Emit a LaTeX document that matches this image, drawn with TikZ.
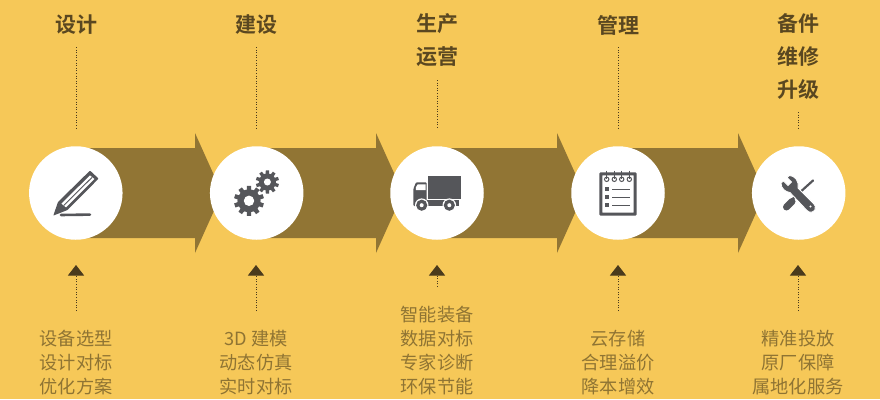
\documentclass[tikz,border=0pt]{standalone}
\usepackage{fontspec}
\setmainfont{Noto Sans CJK SC}
\newfontfamily\cjkb{Noto Sans CJK SC Bold}
\usetikzlibrary{arrows.meta}
\definecolor{bgc}{HTML}{F6C858}
\definecolor{arrowc}{HTML}{917534}
\definecolor{iconc}{HTML}{55565A}
\definecolor{titlec}{HTML}{5A4720}
\definecolor{bodyc}{HTML}{8F7433}
\definecolor{linec}{HTML}{4A3A1C}
\tikzset{
  titletext/.style={text=titlec,font=\cjkb\fontsize{21}{33}\selectfont,align=center,anchor=center,inner sep=0pt},
  bodytext/.style={text=bodyc,font=\fontsize{18.2}{24}\selectfont,align=center,anchor=center,inner sep=0pt},
  disc/.style={circle,fill=white,minimum size=93.5,inner sep=0pt},
  upline/.style={draw=linec,line width=1,dash pattern=on 1 off 1.6},
  pointer/.style={upline,-{Triangle[width=16,length=10.5,fill=linec]}},
  flow/.style={fill=arrowc},
  icon/.style={fill=iconc},
}
\newcommand{\gearshape}[5]{% x y outer body hole
  \fill[icon] (#1,#2) circle[radius=#4];
  \foreach \a in {0,36,...,324}
    \fill[icon,shift={(#1,#2)},rotate=\a] (-#3*0.17,0) -- (-#3*0.14,#3) -- (#3*0.14,#3) -- (#3*0.17,0) -- cycle;
  \fill[white] (#1,#2) circle[radius=#5];
}
\begin{document}
\begin{tikzpicture}[x=1pt,y=-1pt]
\useasboundingbox (0,0) rectangle (880,399);
\fill[bgc] (0,0) rectangle (880,399);
% flow arrows
\foreach \x in {0,181,362,543}
  \fill[flow,shift={(\x,0)}] (76,148) -- (195,148) -- (195,133) -- (222,193) -- (195,253) -- (195,238) -- (76,238) -- cycle;
% discs
\node[disc] (d1) at (75.8,193) {};
\node[disc] (d2) at (256.7,193) {};
\node[disc] (d3) at (437,193) {};
\node[disc] (d4) at (618,193) {};
\node[disc] (d5) at (798.7,193) {};
% titles
\node[titletext] (t1) at (76,25) {设计};
\node[titletext] (t2) at (256,25) {建设};
\node[titletext] (t3) at (437,40.5) {生产\\运营};
\node[titletext] (t4) at (618,25) {管理};
\node[titletext] (t5) at (798,56.5) {备件\\维修\\升级};
% bottom texts
\node[bodytext] (b1) at (76,363) {设备选型\\设计对标\\优化方案};
\node[bodytext] (b2) at (256,363) {3D 建模\\动态仿真\\实时对标};
\node[bodytext] (b3) at (437,351) {智能装备\\数据对标\\专家诊断\\环保节能};
\node[bodytext] (b4) at (618,363) {云存储\\合理溢价\\降本增效};
\node[bodytext] (b5) at (798,363) {精准投放\\原厂保障\\属地化服务};
% upper dotted connectors
\coordinate (u1) at (76,128);
\coordinate (u2) at (256,128);
\coordinate (u3) at (437,128);
\coordinate (u4) at (618,128);
\coordinate (u5) at (798,128);
\draw[upline] (76,47) -- (u1);
\draw[upline] (256,47) -- (u2);
\draw[upline] (437,80) -- (u3);
\draw[upline] (618,47) -- (u4);
\draw[upline] (798,112) -- (u5);
% lower pointers
\coordinate (p1) at (76,265);
\coordinate (p2) at (256,265);
\coordinate (p3) at (437,265);
\coordinate (p4) at (618,265);
\coordinate (p5) at (798,265);
\draw[pointer] (76,311) -- (p1);
\draw[pointer] (256,311) -- (p2);
\draw[pointer] (437,287) -- (p3);
\draw[pointer] (618,311) -- (p4);
\draw[pointer] (798,311) -- (p5);
% pencil icon
\fill[icon,rounded corners=0.6] (53.3,215.6) -- (58,202) -- (90,170.6) -- (98.6,178.6) -- (67.5,210) -- cycle;
\fill[white] (61.4,203.6) -- (90,175.4) -- (94.4,179) -- (66,207.4) -- cycle;
\draw[iconc,line width=0.9] (63.7,205.5) -- (92.2,177.2);
\draw[iconc,line width=2.6,line cap=round] (61,215) -- (90,214.6);
% gears icon
\gearshape{249}{200.8}{15}{11.6}{5.2}
\gearshape{267.4}{182}{11.6}{8.6}{3.5}
% truck icon
\fill[icon] (428.3,175.7) rectangle (460.7,199);
\fill[icon,rounded corners=1] (413.3,206) -- (413.3,189) -- (416,182.3) -- (426.7,182.3) -- (426.7,206) -- cycle;
\fill[icon] (426,200) rectangle (459.4,206);
\fill[white] (415.8,190.2) -- (415.8,187.5) -- (417.6,184.4) -- (425.6,184.4) -- (425.6,190.2) -- cycle;
\foreach \wx in {421.7,449.3} {
  \fill[white] (\wx,205.2) circle[radius=6.8];
  \fill[icon] (\wx,205.2) circle[radius=5.6];
  \fill[white] (\wx,205.2) circle[radius=2];
}
% notebook icon
\draw[iconc,line width=3,rounded corners=0.5] (600.8,173.8) rectangle (635.2,214.2);
\foreach \rx in {606.7,614.3,621.7,629.3} {
  \fill[white] (\rx,179.3) circle[radius=3];
  \draw[iconc,line width=0.8] (\rx,170.6) -- (\rx,179);
  \draw[iconc,line width=1] (\rx,179.3) circle[radius=2.2];
}
\foreach \ly in {189,197,205} {
  \fill[icon] (605.3,\ly-2) rectangle (609.3,\ly+2);
  \draw[iconc,line width=1] (612.3,\ly) -- (630,\ly);
}
% tools icon
\draw[iconc,line width=7,line cap=round] (786.5,207) -- (792,201.5);
\draw[iconc,line width=2.2,line cap=round] (792,199.5) -- (813,180.5);
\fill[icon,draw=white,line width=0.8] (781,183) .. controls (781,189) and (786,192) .. (790,192.5) -- (807,210.5) .. controls (810,213.5) and (814,212) .. (815,209.5) .. controls (816,207) and (815,205) .. (813.5,203.5) -- (798,188) .. controls (799.5,182) and (795,175.5) .. (789.5,175.5) -- (787,177.5) -- (791.5,182) -- (788,185.5) -- (783.5,181) -- cycle;
\fill[white] (810.5,206.5) circle[radius=1.2];
\end{tikzpicture}
\end{document}
